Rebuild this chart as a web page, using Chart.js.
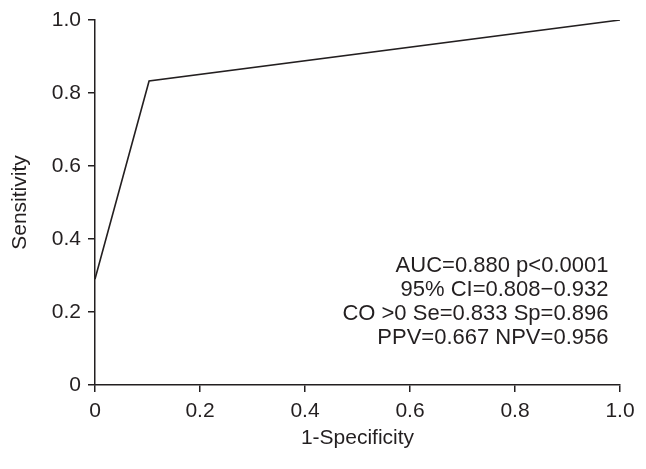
<!DOCTYPE html>
<html>
<head>
<meta charset="utf-8">
<script src="https://cdn.jsdelivr.net/npm/chart.js@4"></script>
<style>
  html, body { margin: 0; padding: 0; background: #fff; }
  #wrap { width: 646px; height: 469px; }
</style>
</head>
<body>
<div id="wrap"><canvas id="rocChart" width="646" height="469"></canvas></div>
<script>
// ROC curve points (1-specificity, sensitivity)
const fpr = [0, 0.103, 1.0];
const tpr = [0.29, 0.833, 1.0];
const tickValues = [0, 0.2, 0.4, 0.6, 0.8, 1.0];
const statsLines = [
  'AUC=0.880 p<0.0001',
  '95% CI=0.808\u22120.932',
  'CO >0 Se=0.833 Sp=0.896',
  'PPV=0.667 NPV=0.956'
];

const ink = '#231f20';
const font = { family: 'Liberation Sans, Arial, sans-serif', size: 21 };

const statsText = {
  id: 'statsText',
  afterDraw(chart) {
    const c = chart.ctx;
    const x = chart.scales.x;
    const y = chart.scales.y;
    c.save();
    c.fillStyle = ink;
    c.font = '22px "Liberation Sans", Arial, sans-serif';
    c.textAlign = 'right';
    c.textBaseline = 'middle';
    const right = x.getPixelForValue(0.978);
    const top = y.getPixelForValue(0.327);
    statsLines.forEach((line, i) => c.fillText(line, right, top + i * 24));
    c.restore();
  }
};

const ctx = document.getElementById('rocChart').getContext('2d');
const chart = new Chart(ctx, {
  type: 'scatter',
  data: {
    datasets: [{
      data: fpr.map((v, i) => ({ x: v, y: tpr[i] })),
      showLine: true,
      borderColor: ink,
      borderWidth: 1.6,
      pointRadius: 0,
      fill: false,
      tension: 0
    }]
  },
  options: {
    responsive: false,
    animation: false,
    layout: { padding: { top: 20, right: 26, left: 4, bottom: 14 } },
    plugins: { legend: { display: false }, tooltip: { enabled: false } },
    scales: {
      x: {
        type: 'linear', min: 0, max: 1,
        afterBuildTicks: s => { s.ticks = tickValues.map(v => ({ value: v })); },
        afterFit: s => { s.height = 70; },
        ticks: { color: ink, font, padding: 7,
          callback: v => v === 0 ? '0' : v.toFixed(1) },
        grid: { drawOnChartArea: false, drawTicks: true, tickLength: 7, color: ink, lineWidth: 1.5 },
        border: { display: true, color: ink, width: 1.5 },
        title: { display: true, text: '1-Specificity', color: ink, font, padding: { top: 4 } }
      },
      y: {
        type: 'linear', min: 0, max: 1,
        afterBuildTicks: s => { s.ticks = tickValues.map(v => ({ value: v })); },
        afterFit: s => { s.width = 91; },
        ticks: { color: ink, font, padding: 7,
          callback: v => v === 0 ? '0' : v.toFixed(1) },
        grid: { drawOnChartArea: false, drawTicks: true, tickLength: 7, color: ink, lineWidth: 1.5 },
        border: { display: true, color: ink, width: 1.5 },
        title: { display: true, text: 'Sensitivity', color: ink, font, padding: { bottom: 10 } }
      }
    }
  },
  plugins: [statsText]
});
</script>
</body>
</html>
